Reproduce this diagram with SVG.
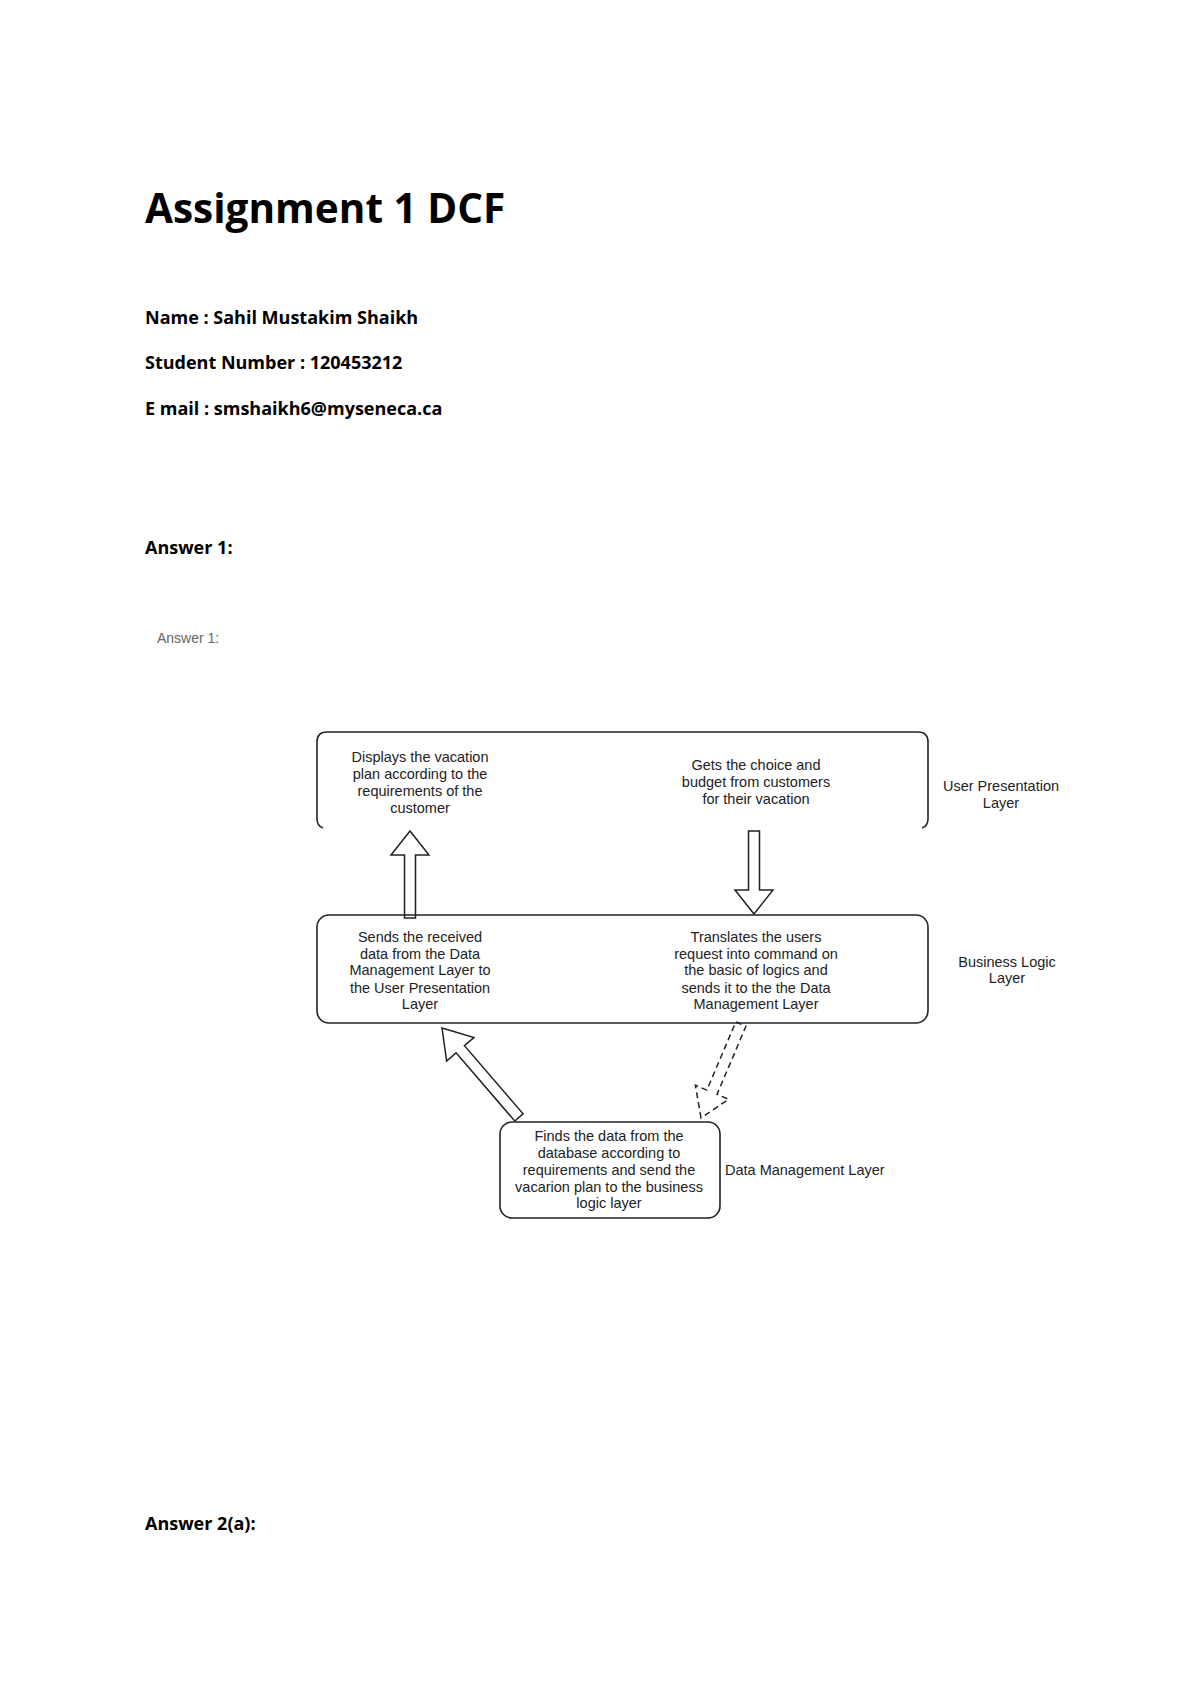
<svg xmlns="http://www.w3.org/2000/svg" width="1200" height="1698" viewBox="0 0 1200 1698">
<style>
.h{font-family:"Open Sans","Liberation Sans",sans-serif;font-weight:bold;fill:#000}
.d{font-family:"Liberation Sans",Arial,sans-serif;font-size:14.5px;fill:#222;text-anchor:middle;dominant-baseline:central}
.box{fill:none;stroke:#222;stroke-width:1.6}
.arr{fill:#fff;stroke:#222;stroke-width:1.5}
</style>
<rect width="1200" height="1698" fill="#fff"/>
<text class="h" x="145" y="223" font-size="40.5">Assignment 1 DCF</text>
<text class="h" x="145" y="324" font-size="18">Name : Sahil Mustakim Shaikh</text>
<text class="h" x="145" y="369" font-size="18">Student Number : 120453212</text>
<text class="h" x="145" y="415" font-size="18">E mail : smshaikh6@myseneca.ca</text>
<text class="h" x="145" y="554" font-size="18">Answer 1:</text>
<text x="157" y="643" font-family="Liberation Sans,sans-serif" font-size="14" fill="#666">Answer 1:</text>
<text class="h" x="145" y="1530" font-size="18">Answer 2(a):</text>

<g transform="translate(0,-5)">
<g id="connectors">
<polygon class="arr" transform="translate(410,836)" points="0,0 19,24 5.5,24 5.5,87 -5.5,87 -5.5,24 -19,24"/>
<polygon class="arr" transform="translate(754,919) rotate(180)" points="0,0 19,24 5.5,24 5.5,83 -5.5,83 -5.5,24 -19,24"/>
<polygon class="arr" transform="translate(442,1033) rotate(-40.7)" points="0,0 18,28 5.5,28 5.5,118 -5.5,118 -5.5,28 -18,28"/>
<polygon class="arr" stroke-dasharray="6,4" transform="translate(701,1123) rotate(-157)" points="0,0 18,28 5.5,28 5.5,102 -5.5,102 -5.5,28 -18,28"/>
</g>

<g id="user-presentation">
<path class="box" d="M317,824 V747 Q317,737 327,737 H918 Q928,737 928,747 V824 Q928,831 922,833 M317,824 Q317,831 323,833"/>
<text class="d" x="420" y="762">Displays the vacation</text>
<text class="d" x="420" y="779">plan according to the</text>
<text class="d" x="420" y="796">requirements of the</text>
<text class="d" x="420" y="813">customer</text>
<text class="d" x="756" y="770">Gets the choice and</text>
<text class="d" x="756" y="787">budget from customers</text>
<text class="d" x="756" y="804">for their vacation</text>
<text class="d" x="1001" y="791">User Presentation</text>
<text class="d" x="1001" y="808">Layer</text>
</g>

<g id="business-logic">
<rect class="box" x="317" y="920" width="611" height="108" rx="12"/>
<text class="d" x="420" y="942">Sends the received</text>
<text class="d" x="420" y="959">data from the Data</text>
<text class="d" x="420" y="975">Management Layer to</text>
<text class="d" x="420" y="993">the User Presentation</text>
<text class="d" x="420" y="1009">Layer</text>
<text class="d" x="756" y="942">Translates the users</text>
<text class="d" x="756" y="959">request into command on</text>
<text class="d" x="756" y="975">the basic of logics and</text>
<text class="d" x="756" y="993">sends it to the the Data</text>
<text class="d" x="756" y="1009">Management Layer</text>
<text class="d" x="1007" y="967">Business Logic</text>
<text class="d" x="1007" y="983">Layer</text>
</g>

<g id="data-management">
<rect class="box" x="500" y="1127" width="220" height="96" rx="12"/>
<text class="d" x="609" y="1141">Finds the data from the</text>
<text class="d" x="609" y="1158">database according to</text>
<text class="d" x="609" y="1175">requirements and send the</text>
<text class="d" x="609" y="1192">vacarion plan to the business</text>
<text class="d" x="609" y="1208">logic layer</text>
<text class="d" x="725" y="1175" style="text-anchor:start">Data Management Layer</text>
</g>
</g>
</svg>
